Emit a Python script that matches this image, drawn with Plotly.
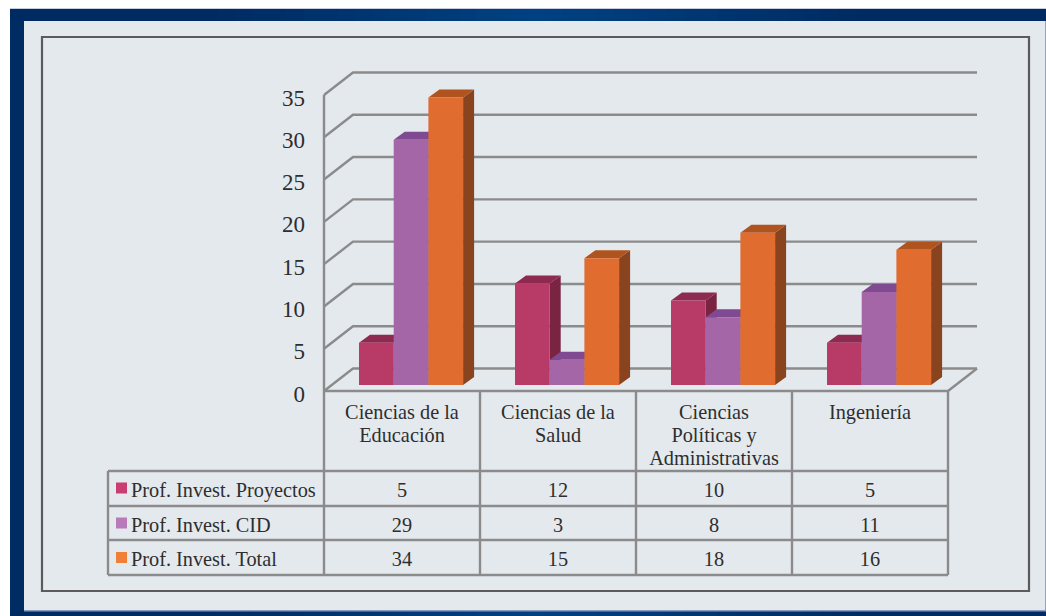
import plotly.graph_objects as go

# ---------- data ----------
categories = [["Ciencias de la", "Educación"], ["Ciencias de la", "Salud"],
              ["Ciencias", "Políticas y", "Administrativas"], ["Ingeniería"]]
series_names = ["Prof. Invest. Proyectos", "Prof. Invest. CID", "Prof. Invest. Total"]
proyectos = [5, 12, 10, 5]
cid = [29, 3, 8, 11]
total = [34, 15, 18, 16]
y_ticks = [0, 5, 10, 15, 20, 25, 30, 35]

series = [proyectos, cid, total]
front = ["#b83a66", "#a566a8", "#e06c30"]
side = ["#7a2442", "#74468a", "#8a431f"]
top = ["#8e2a50", "#7f4a92", "#b0541f"]
swatch = ["#c93d70", "#b87ab8", "#ee8038"]

# ---------- geometry helpers (page pixels <-> axis units) ----------
W, H = 1046, 616
X0, CAT = 324, 156          # pixel of x=0, pixels per category
Y0, UNIT = 391, 8.457       # pixel of y=0 on the front wall, pixels per unit
BASE = 385                  # pixel of the bars' base
LABEL0 = 393.5              # pixel at which the 0 tick label is centred
ux = lambda p: (p - X0) / CAT
uy = lambda p: (Y0 - p) / UNIT
px = lambda p: p / W
py = lambda p: 1 - p / H

WALL_DX, WALL_DY = 29 / CAT, 22.5 / UNIT
BAR_DX, BAR_DY = 11 / CAT, 8 / UNIT
BAR_W = 34.7 / CAT
BAR_START = 35 / CAT

GRID = "#8b8b8b"
TEXT = "#2e2e2e"
FONT = "Liberation Serif"
TXT = 20.3

fig = go.Figure()


def line(xs, ys, width=2.4, color=GRID):
    fig.add_trace(go.Scatter(x=xs, y=ys, mode="lines", line=dict(color=color, width=width),
                             hoverinfo="skip", showlegend=False, yaxis="y"))


# walls and floor
for v in y_ticks:
    line([0, WALL_DX, 4 + WALL_DX], [v, v + WALL_DY, v + WALL_DY])
line([0, 0], [0, y_ticks[-1]])
line([0, 4, 4 + WALL_DX], [0, 0, WALL_DY])

# table grid
rows = [uy(p) for p in (471, 506, 540, 575)]
left = ux(108)
for i in range(5):
    line([i, i], [0, rows[-1]])
line([left, left], [rows[0], rows[-1]])
for r in rows:
    line([left, 4], [r, r])

# table text
centers = [i + 0.5 for i in range(4)]
row_mid = [uy(p) for p in (492, 527, 561)]
row_sw = [uy(p) for p in (488, 523, 557.5)]
font = dict(family=FONT, size=TXT, color=TEXT)
for s, vals in enumerate(series):
    fig.add_trace(go.Scatter(x=centers, y=[row_mid[s]] * 4, text=[str(v) for v in vals], mode="text",
                             textposition="middle center", textfont=font,
                             hoverinfo="skip", showlegend=False, yaxis="y"))
    fig.add_trace(go.Scatter(x=[ux(121.5)], y=[row_sw[s]], mode="markers",
                             marker=dict(symbol="square", size=11, color=swatch[s]),
                             hoverinfo="skip", showlegend=False, yaxis="y"))
    fig.add_trace(go.Scatter(x=[ux(131)], y=[row_mid[s]], text=[series_names[s]], mode="text",
                             textposition="middle right", textfont=font,
                             hoverinfo="skip", showlegend=False, yaxis="y"))

cx, cy, ct = [], [], []
for i, lines in enumerate(categories):
    for k, t in enumerate(lines):
        cx.append(centers[i])
        cy.append(uy(414 + 23 * k))
        ct.append(t)
fig.add_trace(go.Scatter(x=cx, y=cy, text=ct, mode="text", textposition="middle center", textfont=font,
                         hoverinfo="skip", showlegend=False, yaxis="y"))

# 3D sides and tops, then fronts
for s, vals in enumerate(series):
    sx, sy, tx, ty, bx = [], [], [], [], []
    for i, v in enumerate(vals):
        xl = i + BAR_START + s * BAR_W
        xr = xl + BAR_W
        bx.append((xl + xr) / 2)
        sx += [xr, xr + BAR_DX, xr + BAR_DX, xr, xr, None]
        sy += [0, BAR_DY, v + BAR_DY, v, 0, None]
        tx += [xl, xl + BAR_DX, xr + BAR_DX, xr, xl, None]
        ty += [v, v + BAR_DY, v + BAR_DY, v, v, None]
    fig.add_trace(go.Scatter(x=sx, y=sy, mode="lines", fill="toself", fillcolor=side[s],
                             line=dict(width=0), hoverinfo="skip", showlegend=False, yaxis="y2"))
    fig.add_trace(go.Scatter(x=tx, y=ty, mode="lines", fill="toself", fillcolor=top[s],
                             line=dict(width=0), hoverinfo="skip", showlegend=False, yaxis="y2"))
    fig.add_trace(go.Bar(x=bx, y=vals, width=BAR_W, marker=dict(color=front[s], line=dict(width=0)),
                         name=series_names[s], showlegend=False, yaxis="y3"))

# invisible carrier for the axis that holds the tick labels
fig.add_trace(go.Scatter(x=[0] * len(y_ticks), y=y_ticks, mode="lines", line=dict(width=0),
                         opacity=0, hoverinfo="skip", showlegend=False, yaxis="y4"))

# page furniture
shapes = []


def rect(x0, y0, x1, y1, fill=None, lc=None, lw=0):
    shapes.append(dict(type="rect", xref="paper", yref="paper", layer="below",
                       x0=px(x0), x1=px(x1), y0=py(y0), y1=py(y1),
                       fillcolor=fill if fill else "rgba(0,0,0,0)",
                       line=dict(color=lc if lc else "rgba(0,0,0,0)", width=lw)))


def mix(x):
    a, b = (0, 43, 98), (0, 66, 130)
    k = max(0.0, 1 - abs(x - 540) / 330)
    return "rgb(%d,%d,%d)" % tuple(a[j] + (b[j] - a[j]) * k for j in range(3))


rect(10, 8, W, 9, "#c6cde0")
rect(10, 9, W, H, "#002c64")
STEPS = 60
for n in range(STEPS):
    x0 = 10 + (W - 10) * n / STEPS
    x1 = 10 + (W - 10) * (n + 1) / STEPS + 1
    rect(x0, 9, x1, 21, mix((x0 + x1) / 2))
    rect(x0, 611, x1, H, mix((x0 + x1) / 2))
rect(24, 21, W, 611, "#e4e9ee")
rect(24, 610, W, 611.5, "#8c9cc0")
rect(1045, 21, W, 611, "#9aa2ae")
rect(42, 37, 1029, 591, None, "#5c5a5a", 2.2)

y_rng = [uy(H), uy(0)]
bar_rng = [(BASE - H) / UNIT, BASE / UNIT]
lab_rng = [(LABEL0 - H) / UNIT, LABEL0 / UNIT]
fig.update_layout(
    width=W, height=H, margin=dict(l=0, r=0, t=0, b=0, pad=0),
    paper_bgcolor="#ffffff", plot_bgcolor="rgba(0,0,0,0)",
    barmode="overlay", showlegend=False, shapes=shapes,
    xaxis=dict(range=[ux(0), ux(W)], visible=False, domain=[0, 1], fixedrange=True),
    yaxis=dict(range=y_rng, domain=[0, 1], visible=False, fixedrange=True),
    yaxis2=dict(range=bar_rng, overlaying="y", visible=False, fixedrange=True),
    yaxis3=dict(range=bar_rng, overlaying="y", visible=False, fixedrange=True),
    yaxis4=dict(range=lab_rng, overlaying="y", anchor="free", position=X0 / W, side="left",
                tickvals=y_ticks, ticks="", showgrid=False, zeroline=False, showline=False,
                tickfont=dict(family=FONT, size=23, color=TEXT), ticklabelstandoff=19, fixedrange=True),
)
fig.write_html("out.html", config=dict(displayModeBar=False),
               post_script="document.body.style.margin='0';")
